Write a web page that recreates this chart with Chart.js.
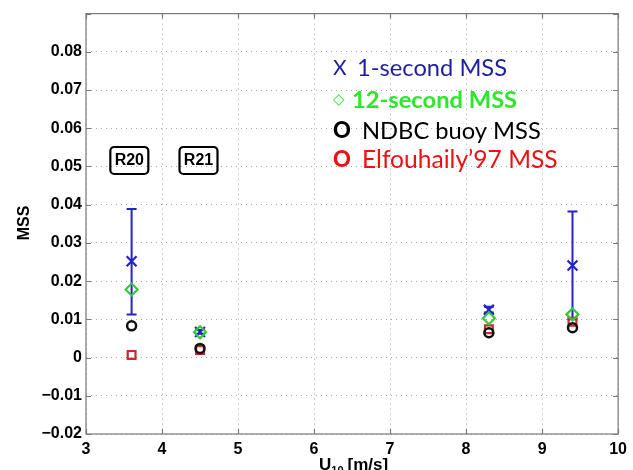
<!DOCTYPE html>
<html>
<head>
<meta charset="utf-8">
<script src="https://cdn.jsdelivr.net/npm/chart.js@4"></script>
<style>
  html, body { margin: 0; padding: 0; background: #fff; }
  #wrap { width: 633px; height: 470px; }
</style>
</head>
<body>
<div id="wrap"><canvas id="mssChart" width="633" height="470"></canvas></div>
<script>
// wind speed U10 [m/s] for each run
const windSpeed = [3.6, 4.5, 8.3, 9.4];
// MSS estimates
const mss1s = [0.0252, 0.0067, 0.0125, 0.0241];
const mss1sLow = [0.0113, 0.0062, 0.0118, 0.0100];
const mss1sHigh = [0.0389, 0.0072, 0.0133, 0.0382];
const mss12s = [0.0178, 0.0066, 0.0103, 0.0113];
const mssNdbc = [0.0083, 0.0024, 0.0065, 0.0078];
const mssElf = [0.0007, 0.0020, 0.0074, 0.0094];
// run labels
const runLabels = ['R20', 'R21'];
const runLabelX = [3.57, 4.48];
const runLabelY = [0.0517, 0.0517];
// legend entries
const legendSymbols = ['X', '\u25C7', 'O', 'O'];
const legendTexts = ['1-second MSS', '12-second MSS', 'NDBC buoy MSS', 'Elfouhaily\u201997 MSS'];

const tickFont = { family: '"Liberation Sans", Arial, sans-serif', size: 16, weight: 'bold' };

function pts(ys) {
  return windSpeed.map((x, i) => ({ x: x, y: ys[i] }));
}

// error bars for the 1-second MSS
const errorBars = {
  id: 'errorBars',
  beforeDatasetsDraw(chart) {
    const { ctx, scales: { x, y } } = chart;
    ctx.save();
    ctx.strokeStyle = '#2323c8';
    ctx.lineWidth = 2;
    windSpeed.forEach((w, i) => {
      const px = x.getPixelForValue(w);
      const lo = y.getPixelForValue(mss1sLow[i]);
      const hi = y.getPixelForValue(mss1sHigh[i]);
      ctx.beginPath();
      ctx.moveTo(px, lo); ctx.lineTo(px, hi);
      ctx.moveTo(px - 5, lo); ctx.lineTo(px + 5, lo);
      ctx.moveTo(px - 5, hi); ctx.lineTo(px + 5, hi);
      ctx.stroke();
    });
    ctx.restore();
  }
};

// font size that makes a string a given width
function fitFont(ctx, weight, family, text, width) {
  ctx.font = weight + ' 20px ' + family;
  const w = ctx.measureText(text).width;
  return weight + ' ' + (20 * width / w).toFixed(1) + 'px ' + family;
}

// box, inward ticks, axis titles, run labels, legend text
const decorations = {
  id: 'decorations',
  beforeDatasetsDraw(chart) {
    const { ctx, chartArea: a, scales: { x, y } } = chart;
    ctx.save();
    ctx.strokeStyle = '#7a7a7a';
    ctx.lineWidth = 1.2;
    ctx.strokeRect(a.left, a.top, a.right - a.left, a.bottom - a.top);
    ctx.beginPath();
    x.ticks.forEach(t => {
      const px = Math.round(x.getPixelForValue(t.value)) + 0.5;
      ctx.moveTo(px, a.bottom); ctx.lineTo(px, a.bottom - 5);
      ctx.moveTo(px, a.top); ctx.lineTo(px, a.top + 5);
    });
    y.ticks.forEach(t => {
      const py = Math.round(y.getPixelForValue(t.value)) + 0.5;
      ctx.moveTo(a.left, py); ctx.lineTo(a.left + 5, py);
      ctx.moveTo(a.right, py); ctx.lineTo(a.right - 5, py);
    });
    ctx.stroke();
    ctx.restore();
  },
  afterDraw(chart) {
    const { ctx, scales: { x, y } } = chart;
    ctx.save();
    ctx.fillStyle = '#000';
    // y title
    ctx.font = 'bold 16px "Liberation Sans", Arial, sans-serif';
    ctx.translate(25, 223);
    ctx.rotate(-Math.PI / 2);
    ctx.textAlign = 'center';
    ctx.textBaseline = 'middle';
    ctx.fillText('MSS', 0, 0);
    ctx.restore();

    // x title with subscript
    ctx.save();
    ctx.fillStyle = '#000';
    ctx.textBaseline = 'alphabetic';
    ctx.textAlign = 'left';
    let tx = 319;
    ctx.font = 'bold 17px "Liberation Sans", Arial, sans-serif';
    ctx.fillText('U', tx, 470);
    tx += ctx.measureText('U').width;
    ctx.font = 'bold 11px "Liberation Sans", Arial, sans-serif';
    ctx.fillText('10', tx, 474);
    tx += ctx.measureText('10').width + 4;
    ctx.font = 'bold 17px "Liberation Sans", Arial, sans-serif';
    ctx.fillText('[m/s]', tx, 470);
    ctx.restore();

    // run labels in boxes
    ctx.save();
    ctx.font = 'bold 16px "Liberation Sans", Arial, sans-serif';
    ctx.textAlign = 'center';
    ctx.textBaseline = 'middle';
    runLabels.forEach((lab, i) => {
      const cx = x.getPixelForValue(runLabelX[i]);
      const cy = y.getPixelForValue(runLabelY[i]);
      ctx.strokeStyle = '#000';
      ctx.lineWidth = 2.2;
      ctx.beginPath();
      ctx.roundRect(cx - 19, cy - 13, 38, 27, 4);
      ctx.stroke();
      ctx.fillStyle = '#000';
      ctx.fillText(lab, cx, cy + 1);
    });
    ctx.restore();

    // legend text
    ctx.save();
    ctx.textBaseline = 'middle';
    ctx.textAlign = 'left';
    const lf = 'Lato, "Open Sans", sans-serif';
    const rows = [
      { y: 68, col: '#1e1e9e', symFont: '21px ' + lf, weight: 'normal', tx: 357, w: 150 },
      { y: 100, col: '#2ee62e', symFont: '15px "DejaVu Sans"', weight: 'bold', tx: 352, w: 165 },
      { y: 131, col: '#000000', symFont: '900 22px ' + lf, weight: 'normal', tx: 362, w: 179 },
      { y: 160, col: '#ee1111', symFont: '900 22px ' + lf, weight: 'normal', tx: 362, w: 196 }
    ];
    rows.forEach((r, i) => {
      ctx.fillStyle = r.col;
      ctx.font = r.symFont;
      ctx.fillText(legendSymbols[i], 333, r.y);
      ctx.font = fitFont(ctx, r.weight, lf, legendTexts[i], r.w);
      ctx.fillText(legendTexts[i], r.tx, r.y);
    });
    ctx.restore();
  }
};

new Chart(document.getElementById('mssChart'), {
  type: 'scatter',
  data: {
    datasets: [
      { label: '12-second MSS', data: pts(mss12s), pointStyle: 'rectRot', radius: 6,
        borderColor: '#35c935', backgroundColor: 'rgba(0,0,0,0)', borderWidth: 2.2 },
      { label: 'NDBC buoy MSS', data: pts(mssNdbc), pointStyle: 'circle', radius: 4.5,
        borderColor: '#111111', backgroundColor: 'rgba(0,0,0,0)', borderWidth: 2.5 },
      { label: 'Elfouhaily97 MSS', data: pts(mssElf), pointStyle: 'rect', radius: 5.5,
        borderColor: '#c42a2e', backgroundColor: 'rgba(0,0,0,0)', borderWidth: 2.2 },
      { label: '1-second MSS', data: pts(mss1s), pointStyle: 'crossRot', radius: 7,
        borderColor: '#2323c8', backgroundColor: '#2323c8', borderWidth: 2.2 }
    ]
  },
  options: {
    responsive: false,
    animation: false,
    layout: { padding: { top: 12, right: 11, left: 0, bottom: 0 } },
    plugins: { legend: { display: false }, tooltip: { enabled: false } },
    scales: {
      x: {
        type: 'linear', min: 3, max: 10,
        ticks: { stepSize: 1, font: tickFont, color: '#000', padding: 6 },
        grid: { color: '#a8a8a8', lineWidth: 1, drawTicks: false },
        border: { display: false, dash: [1, 4] },
        afterFit(s) { s.height = 36; }
      },
      y: {
        type: 'linear', min: -0.02, max: 0.09,
        ticks: {
          stepSize: 0.01, font: tickFont, color: '#000', padding: 4,
          callback(v) {
            const n = Math.round(v * 100);
            if (n === 9) return '';
            if (n === 0) return '0';
            return (n < 0 ? '\u2212' : '') + (Math.abs(n) / 100).toFixed(2);
          }
        },
        grid: { color: '#a8a8a8', lineWidth: 1, drawTicks: false },
        border: { display: false, dash: [1, 4] },
        afterFit(s) { s.width = 86; }
      }
    }
  },
  plugins: [errorBars, decorations]
});
</script>
</body>
</html>
